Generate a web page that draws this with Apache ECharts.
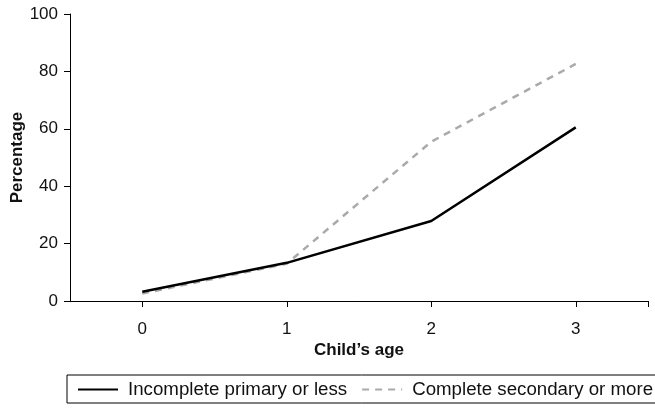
<!DOCTYPE html>
<html>
<head>
<meta charset="utf-8">
<script src="https://cdn.jsdelivr.net/npm/echarts@6/dist/echarts.min.js"></script>
<style>
  html, body { margin: 0; padding: 0; background: #fff; }
  #main { width: 655px; height: 410px; }
</style>
</head>
<body>
<div id="main"></div>
<script>
// 数据
var ages = [0, 1, 2, 3];
var primaryOrLess = [3.2, 13.3, 27.9, 60.5];
var secondaryOrMore = [2.6, 13.0, 55.5, 82.6];
var seriesNames = ['Incomplete primary or less', 'Complete secondary or more'];

function pairs(vals) {
	return ages.map(function (a, i) { return [a, vals[i]]; });
}

var chart = echarts.init(document.getElementById('main'));
var font = 'Liberation Sans, Arial, sans-serif';

var option = {
	animation: false,
	backgroundColor: '#fff',
	textStyle: { fontFamily: font },
	grid: { left: 70, right: 7, top: 14, bottom: 109, outerBoundsMode: 'none', containLabel: false },
	legend: {
		left: 67,
		top: 375,
		width: 700,
		padding: [5, 10, 4, 10],
		borderColor: '#000',
		borderWidth: 1,
		itemWidth: 40,
		itemHeight: 14,
		itemGap: 14,
		itemStyle: { opacity: 0 },
		textStyle: { fontSize: 18.7, color: '#111', fontFamily: font, padding: [0, 0, 0, 5] },
		data: seriesNames
	},
	xAxis: {
		type: 'value',
		min: -0.5,
		max: 3.5,
		name: 'Child\u2019s age',
		nameLocation: 'middle',
		nameGap: 41,
		nameMoveOverlap: false,
		nameTextStyle: { fontSize: 17, fontWeight: 'bold', color: '#111', fontFamily: font },
		axisLine: { show: true, onZero: false, lineStyle: { color: '#000', width: 1 } },
		axisTick: { show: true, length: 6, lineStyle: { color: '#000' }, customValues: [0, 1, 2, 3, 3.5] },
		axisLabel: { fontSize: 17, color: '#111', margin: 20, customValues: ages },
		splitLine: { show: false }
	},
	yAxis: {
		type: 'value',
		min: 0,
		max: 100,
		interval: 20,
		name: 'Percentage',
		nameLocation: 'middle',
		nameGap: 44,
		nameMoveOverlap: false,
		nameTextStyle: { fontSize: 17, fontWeight: 'bold', color: '#111', fontFamily: font },
		axisLine: { show: true, onZero: false, lineStyle: { color: '#000', width: 1 } },
		axisTick: { show: true, length: 6, lineStyle: { color: '#000' } },
		axisLabel: { fontSize: 17, color: '#111', margin: 12 },
		splitLine: { show: false }
	},
	series: [{
		name: seriesNames[0],
		type: 'line',
		symbol: 'none',
		data: pairs(primaryOrLess),
		lineStyle: { color: '#000', width: 2.5 },
		itemStyle: { color: '#000' },
		z: 3
	}, {
		name: seriesNames[1],
		type: 'line',
		symbol: 'none',
		data: pairs(secondaryOrMore),
		lineStyle: { color: '#aaa', width: 2.5, type: [7, 6] },
		itemStyle: { color: '#aaa' },
		z: 2
	}]
};

chart.setOption(option);
window.onresize = chart.resize;
</script>
</body>
</html>
